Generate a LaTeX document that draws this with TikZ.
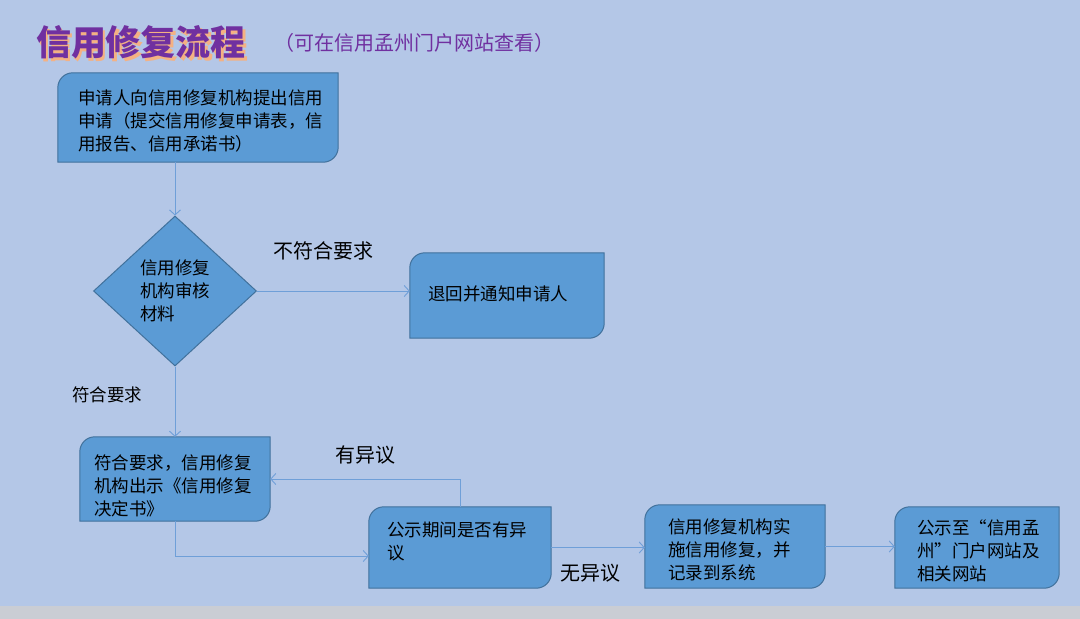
\documentclass[tikz,border=0pt]{standalone}
\usepackage{fontspec}
\setmainfont{Noto Sans CJK SC}
\usetikzlibrary{arrows.meta,shapes.geometric,backgrounds}
\definecolor{bgc}{HTML}{B4C7E7}
\definecolor{boxfill}{HTML}{5B9BD5}
\definecolor{boxline}{HTML}{41719C}
\definecolor{connc}{HTML}{6F9FD8}
\definecolor{titlec}{HTML}{7030A0}
\definecolor{shadowc}{HTML}{F4B183}
\definecolor{stripc}{HTML}{CACDD4}
\tikzset{
  boxshape/.style={rectangle, inner sep=0pt, draw=none, fill=none},
  boxtext/.style={inner sep=0pt, align=left, anchor=west, font=\fontsize{17.5}{23}\selectfont, text=black},
  lbl/.style={inner sep=0pt, font=\fontsize{20}{24}\selectfont, text=black},
  conn/.style={draw=connc, line width=0.9pt, -{Straight Barb[length=5pt,width=11pt]}},
  boxdraw/.style={fill=boxfill, draw=boxline, line width=1pt},
  decision/.style={diamond, fill=boxfill, draw=boxline, line width=1pt, inner sep=0pt, minimum width=163pt, minimum height=150pt, align=left, font=\fontsize{17.5}{23}\selectfont},
}
\newcommand\snipbox[1]{%
  \draw[boxdraw] (#1.south west) -- ([yshift=-15pt]#1.north west)
    arc[start angle=180,end angle=90,radius=15pt] -- (#1.north east)
    -- ([yshift=15pt]#1.south east)
    arc[start angle=0,end angle=-90,radius=15pt] -- cycle;}
\newcommand\shadowtitle[1]{\makebox[0pt][l]{\hspace{2.5pt}\raisebox{-3pt}{\textcolor{shadowc}{#1}}}#1}
\begin{document}
\begin{tikzpicture}[x=1pt,y=-1pt]
\useasboundingbox (0,0) rectangle (1080,619);
% boxes (geometry)
\node[boxshape, minimum width=280pt, minimum height=89pt] (b1) at (198,117.5) {};
\node[boxshape, minimum width=194pt, minimum height=85pt] (b2) at (507,295.5) {};
\node[boxshape, minimum width=190pt, minimum height=84pt] (b3) at (175,479) {};
\node[boxshape, minimum width=182pt, minimum height=81pt] (b4) at (460,547.5) {};
\node[boxshape, minimum width=180pt, minimum height=83pt] (b5) at (735,546.5) {};
\node[boxshape, minimum width=164pt, minimum height=81pt] (b6) at (977,547.5) {};
\node[decision] (dia) at (175,291) {信用修复\\机构审核\\材料};
% texts
\node[boxtext] (t1) at (78,121) {申请人向信用修复机构提出信用\\申请（提交信用修复申请表，信\\用报告、信用承诺书）};
\node[boxtext] (t2) at (428,294) {退回并通知申请人};
\node[boxtext] (t3) at (94,486) {符合要求，信用修复\\机构出示《信用修复\\决定书》};
\node[boxtext] (t4) at (387,541) {公示期间是否有异\\议};
\node[boxtext] (t5) at (668,550) {信用修复机构实\\施信用修复，并\\记录到系统};
\node[boxtext] (t6) at (917,551) {公示至“信用孟\\州”门户网站及\\相关网站};
% labels
\node[lbl] (l1) at (323,251) {不符合要求};
\node[lbl, font=\fontsize{17.5}{20}\selectfont] (l2) at (107,395) {符合要求};
\node[lbl] (l3) at (365,455) {有异议};
\node[lbl] (l4) at (590,573) {无异议};
% title
\node[inner sep=0pt, text=titlec, font=\fontsize{35}{40}\bfseries\selectfont] (title) at (141,44) {\shadowtitle{信用修复流程}};
\node[inner sep=0pt, text=titlec, font=\fontsize{20}{22}\selectfont] (sub) at (414,43) {（可在信用孟州门户网站查看）};
% connectors
\draw[conn] (dia.north |- b1.south) -- (dia.north);
\draw[conn] (dia.east) -- (dia.east -| b2.west);
\draw[conn] (dia.south) -- (b3.north);
\draw[conn] (b3.south) |- ([yshift=-8.5pt]b4.west);
\draw[conn] (b4.north) |- (b3.east);
\draw[conn] (b4.east) -- (b4.east -| b5.west);
\draw[conn] (b5.east) -- (b5.east -| b6.west);
\begin{pgfonlayer}{background}
\fill[bgc] (0,0) rectangle (1080,606);
\fill[stripc] (0,606) rectangle (1080,619);
\snipbox{b1}
\snipbox{b2}
\snipbox{b3}
\snipbox{b4}
\snipbox{b5}
\snipbox{b6}
\end{pgfonlayer}
\end{tikzpicture}
\end{document}
